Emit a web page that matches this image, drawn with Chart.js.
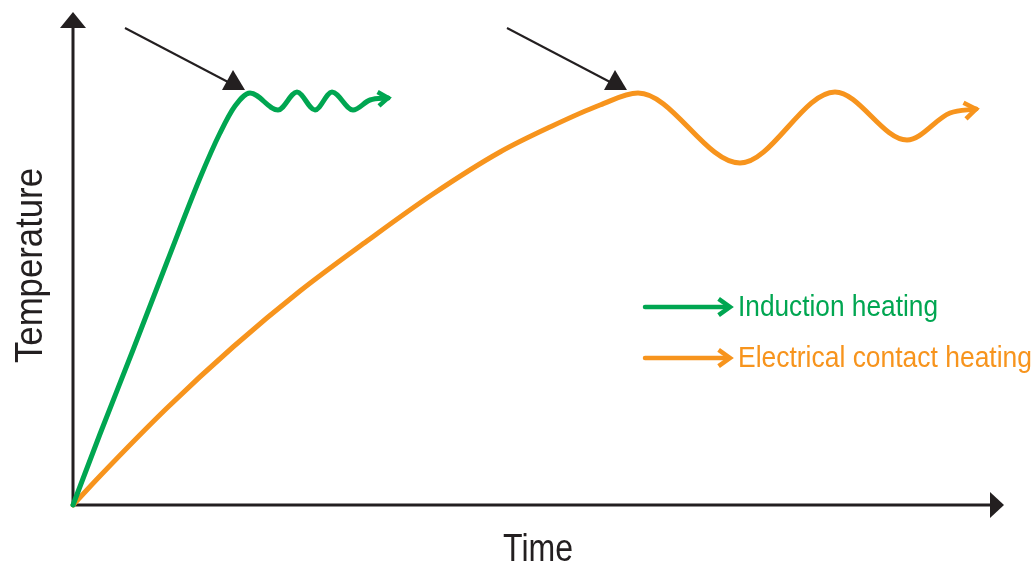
<!DOCTYPE html>
<html lang="en">
<head>
  <meta charset="UTF-8">
  <title>Induction vs electrical contact heating</title>
  <script src="https://cdn.jsdelivr.net/npm/chart.js"></script>
  <style>
    html, body { margin: 0; padding: 0; background: #fff; }
    #wrap { width: 1036px; height: 563px; }
  </style>
</head>
<body>
  <div id="wrap"><canvas id="heatChart" width="1036" height="563"></canvas></div>

  <script>
    // Values (arbitrary units, no ticks on the original)
    const inductionTime = [0, 27, 60, 94, 127, 147, 162, 177, 205, 224, 242, 259, 280, 297, 315];
    const inductionTemp = [0, 71, 155, 243, 327, 372, 399, 412, 395, 413, 395, 413, 395, 405, 407];

    const contactTime = [0, 27, 94, 160, 227, 294, 360, 427, 477, 527, 565, 667, 762, 834, 877, 903];
    const contactTemp = [0, 29, 97, 158, 214, 264, 311, 353, 378, 400, 412, 342, 413, 365, 392, 396];

    const seriesLabels = ['Induction heating', 'Electrical contact heating'];
    const seriesColors = ['#00a651', '#f7941d'];
    const axisTitles = ['Time', 'Temperature'];

    // black pointers: start point and tip (time, temperature)
    const pointerFrom = [[52, 477], [434, 477]];
    const pointerTo = [[160, 435], [542, 435]];

    const INK = '#231f20';
    const FONT = '"Liberation Sans", Arial, sans-serif';

    function toPoints(xs, ys) {
      return xs.map((x, i) => ({ x: x, y: ys[i] }));
    }

    // draw text squeezed/stretched to a given width
    function fitText(ctx, text, x, y, size, width) {
      ctx.save();
      ctx.font = size + 'px ' + FONT;
      const w = ctx.measureText(text).width;
      ctx.translate(x, y);
      ctx.scale(width / w, 1);
      ctx.fillText(text, 0, 0);
      ctx.restore();
    }

    function chevron(ctx, x, y, angle, len, spread) {
      ctx.beginPath();
      ctx.moveTo(x - len * Math.cos(angle - spread), y - len * Math.sin(angle - spread));
      ctx.lineTo(x, y);
      ctx.lineTo(x - len * Math.cos(angle + spread), y - len * Math.sin(angle + spread));
      ctx.stroke();
    }

    const decorPlugin = {
      id: 'decor',
      beforeDatasetsDraw(chart) {
        const ctx = chart.ctx;
        const a = chart.chartArea;
        ctx.save();
        ctx.strokeStyle = INK;
        ctx.fillStyle = INK;
        ctx.lineWidth = 3;

        // y axis
        ctx.beginPath();
        ctx.moveTo(a.left, a.bottom + 1.5);
        ctx.lineTo(a.left, a.top + 14);
        ctx.stroke();
        ctx.beginPath();
        ctx.moveTo(a.left, a.top);
        ctx.lineTo(a.left - 13, a.top + 16);
        ctx.lineTo(a.left + 13, a.top + 16);
        ctx.closePath();
        ctx.fill();

        // x axis
        ctx.beginPath();
        ctx.moveTo(a.left - 1.5, a.bottom);
        ctx.lineTo(a.right - 14, a.bottom);
        ctx.stroke();
        ctx.beginPath();
        ctx.moveTo(a.right, a.bottom);
        ctx.lineTo(a.right - 14, a.bottom - 13);
        ctx.lineTo(a.right - 14, a.bottom + 13);
        ctx.closePath();
        ctx.fill();

        // axis titles
        ctx.textAlign = 'left';
        ctx.textBaseline = 'alphabetic';
        fitText(ctx, axisTitles[0], 503, 561, 38, 70);
        ctx.save();
        ctx.translate(42, 363);
        ctx.rotate(-Math.PI / 2);
        fitText(ctx, axisTitles[1], 0, 0, 39, 195);
        ctx.restore();
        ctx.restore();
      },
      afterDatasetsDraw(chart) {
        const ctx = chart.ctx;
        const xs = chart.scales.x, ys = chart.scales.y;
        ctx.save();

        // arrow heads at the end of each curve
        chart.data.datasets.forEach((ds, i) => {
          const pts = chart.getDatasetMeta(i).data;
          const p = pts[pts.length - 1];
          const q = (p.cp1x !== undefined && p.cp1x !== p.x) ? { x: p.cp1x, y: p.cp1y } : pts[pts.length - 2];
          const ang = Math.atan2(p.y - q.y, p.x - q.x);
          ctx.strokeStyle = ds.borderColor;
          ctx.lineWidth = 4.5;
          ctx.lineJoin = 'miter';
          chevron(ctx, p.x, p.y, ang, i === 0 ? 12 : 14, 0.62);
        });

        // black pointers
        ctx.strokeStyle = INK;
        ctx.fillStyle = INK;
        ctx.lineWidth = 2;
        pointerFrom.forEach((f, i) => {
          const x0 = xs.getPixelForValue(f[0]), y0 = ys.getPixelForValue(f[1]);
          const tx = xs.getPixelForValue(pointerTo[i][0]), ty = ys.getPixelForValue(pointerTo[i][1]);
          ctx.beginPath();
          ctx.moveTo(x0, y0);
          ctx.lineTo(tx - 5, ty + 12);
          ctx.stroke();
          ctx.beginPath();
          ctx.moveTo(tx, ty);
          ctx.lineTo(tx - 11, ty + 20);
          ctx.lineTo(tx + 12, ty + 20);
          ctx.closePath();
          ctx.fill();
        });

        // legend with arrows
        const rows = [307, 358];
        const widths = [200, 294];
        chart.data.datasets.forEach((ds, i) => {
          const y = rows[i];
          ctx.strokeStyle = ds.borderColor;
          ctx.fillStyle = ds.borderColor;
          ctx.lineWidth = 4.5;
          ctx.lineCap = 'round';
          ctx.beginPath();
          ctx.moveTo(645, y);
          ctx.lineTo(727, y);
          ctx.stroke();
          ctx.lineCap = 'butt';
          chevron(ctx, 730, y, 0, 14, 0.62);
          ctx.textAlign = 'left';
          ctx.textBaseline = 'alphabetic';
          fitText(ctx, ds.label, 738, y + 9, 30, widths[i]);
        });
        ctx.restore();
      }
    };

    const ctx = document.getElementById('heatChart').getContext('2d');
    const heatChart = new Chart(ctx, {
      type: 'scatter',
      data: {
        datasets: [
          {
            label: seriesLabels[0],
            data: toPoints(inductionTime, inductionTemp),
            borderColor: seriesColors[0],
          },
          {
            label: seriesLabels[1],
            data: toPoints(contactTime, contactTemp),
            borderColor: seriesColors[1],
          }
        ].map(ds => Object.assign(ds, {
          showLine: true,
          borderWidth: 5,
          borderCapStyle: 'round',
          borderJoinStyle: 'round',
          cubicInterpolationMode: 'monotone',
          pointRadius: 0,
          pointHoverRadius: 0,
          fill: false,
          clip: false
        }))
      },
      options: {
        responsive: false,
        animation: false,
        layout: { padding: { left: 73, right: 32, top: 12, bottom: 58 } },
        scales: {
          x: { type: 'linear', min: 0, max: 931, display: false },
          y: { type: 'linear', min: 0, max: 493, display: false }
        },
        plugins: {
          legend: { display: false },
          tooltip: { enabled: false }
        }
      },
      plugins: [decorPlugin]
    });
  </script>
</body>
</html>
